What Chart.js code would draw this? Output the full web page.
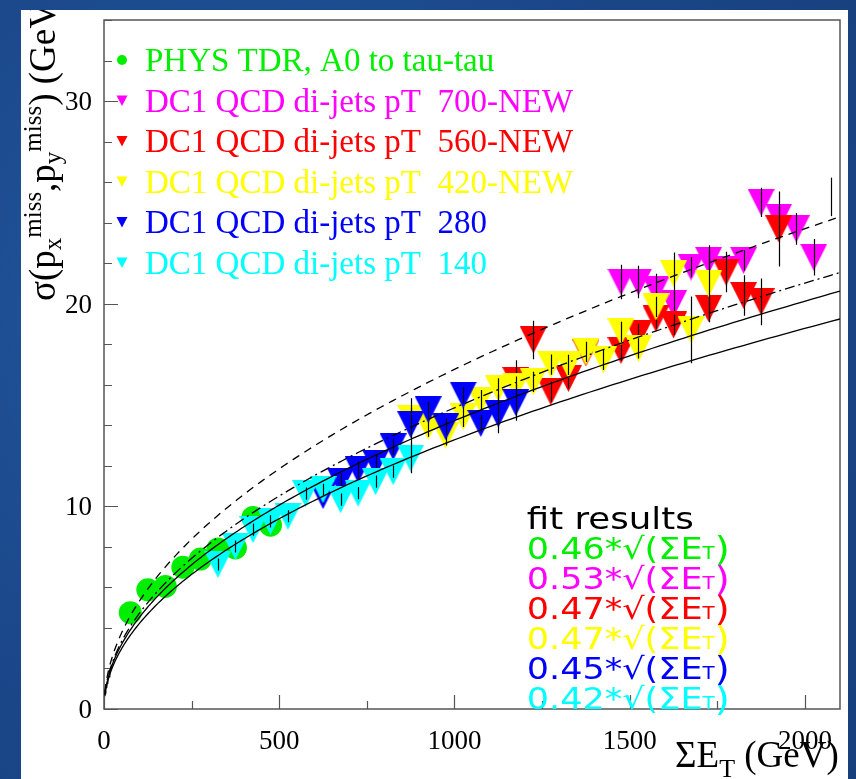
<!DOCTYPE html>
<html lang="en">
<head>
<meta charset="UTF-8">
<title>Missing ET resolution vs sum ET</title>
<style>
  html, body { margin:0; padding:0; }
  body { width:856px; height:779px; position:relative; overflow:hidden;
         background:#1c4b8e radial-gradient(circle at 30% 40%, #2358a0 0%, #1a4688 60%, #173f7c 100%); }
  #panel { position:absolute; left:21px; top:10px; width:827px; height:769px; background:#fff; }
  canvas { display:block; }
</style>
</head>
<body>
<div id="panel"><canvas id="c" width="827" height="769"></canvas></div>

<script src="https://cdn.jsdelivr.net/npm/chart.js"></script>
<script>
// PHYS TDR, A0 -> tau tau
const tdrX = [75, 125, 175, 225, 275, 325, 375, 425, 475];
const tdrY = [4.75, 5.88, 6.05, 7.0, 7.4, 7.9, 7.95, 9.45, 9.07];

// DC1 QCD di-jets, pT 700
const pt700X = [1475, 1525, 1575, 1625, 1675, 1725, 1775, 1825, 1875, 1925, 1975, 2025];
const pt700Y = [21.07, 21.07, 20.68, 20.0, 21.81, 22.14, 21.7, 22.14, 25.0, 24.27, 23.69, 22.29];
const pt700Err = [0.85, 0.8, 0.8, 0.5, 0.5, 0.5, 0.5, 0.5, 0.72, 0.5, 0.78, 0.9];
// last 700 bin: only its error bar shows
const pt700TailX = [2075];
const pt700TailY = [25.27];
const pt700TailErr = [0.95];

// pT 560
const pt560X = [1175, 1225, 1275, 1325, 1375, 1475, 1525, 1575, 1625, 1725, 1775, 1825, 1875, 1925];
const pt560Y = [16.21, 18.21, 15.65, 16.31, 17.57, 17.69, 18.51, 19.26, 18.95, 19.76, 21.56, 20.41, 20.09, 23.69];
const pt560Err = [1.0, 0.95, 0.5, 0.5, 0.5, 0.5, 0.5, 0.5, 0.5, 0.5, 1.0, 1.0, 1.15, 1.85];

// pT 420
const pt420X = [875, 925, 975, 1025, 1075, 1125, 1175, 1225, 1275, 1325, 1375, 1425, 1475, 1525, 1575, 1625, 1675, 1725];
const pt420Y = [14.34, 13.94, 13.5, 14.42, 15.24, 15.82, 15.91, 16.14, 16.99, 16.98, 17.62, 17.23, 18.61, 17.79, 19.84, 21.48, 18.71, 20.99];
const pt420Err = [0.5, 0.5, 0.5, 0.5, 0.5, 0.5, 0.5, 0.5, 0.5, 0.5, 0.5, 0.5, 0.5, 0.5, 0.5, 1.05, 1.65, 1.9];

// pT 280
const pt280X = [625, 675, 725, 775, 825, 875, 925, 975, 1025, 1075, 1125, 1175];
const pt280Y = [10.53, 11.22, 11.81, 12.13, 12.94, 14.03, 14.77, 13.93, 15.49, 14.09, 14.56, 15.12];
const pt280Err = [0.4, 0.4, 0.4, 0.4, 0.4, 1.3, 0.4, 0.4, 0.4, 0.4, 0.95, 0.9];

// pT 140
const pt140X = [325, 375, 425, 475, 525, 575, 625, 675, 725, 775, 825, 875];
const pt140Y = [7.13, 8.02, 8.85, 9.26, 9.51, 10.63, 10.82, 10.33, 10.65, 11.22, 11.71, 12.38];
const pt140Err = [0.3, 0.3, 0.3, 0.3, 0.3, 0.3, 0.3, 0.3, 0.3, 0.3, 0.3, 0.75];

// sqrt fits: coefficient per sample (box) and the curves drawn
const fitSlopes = [0.46, 0.53, 0.47, 0.47, 0.45, 0.42];
const curveSlopes = [0.53, 0.47, 0.45, 0.42];

const xTicks = [0, 500, 1000, 1500, 2000];
const yTicks = [0, 10, 20, 30];

const GREEN = '#00ee00', MAGENTA = '#ff00ff', RED = '#ff0000',
      YELLOW = '#ffff00', BLUE = '#0000ff', CYAN = '#00ffff';
const SERIF = '"Liberation Serif", "Times New Roman", serif';
const SANS = '"DejaVu Sans", sans-serif';

function pts(xs, ys) { return xs.map((x, i) => ({ x: x, y: ys[i] })); }

function fitCurve(a) {
  const out = [];
  for (let i = 0; i <= 160; i++) {
    const x = 2.5 + (2100 - 2.5) * Math.pow(i / 160, 2);
    out.push({ x: x, y: a * Math.sqrt(x) });
  }
  return out;
}

// full down-triangle marker, centred on the point
function downTriangle(color, w) {
  const c = document.createElement('canvas');
  c.width = w; c.height = w;
  const g = c.getContext('2d');
  g.fillStyle = color;
  g.beginPath(); g.moveTo(0, 0); g.lineTo(w, 0); g.lineTo(w / 2, w); g.closePath(); g.fill();
  return c;
}

function markerSet(label, color, xs, ys, errs, order) {
  return {
    label: label, legend: true, color: color,
    data: pts(xs, ys), errors: errs,
    pointStyle: downTriangle(color, 27), pointRadius: 13, pointHoverRadius: 13,
    borderColor: color, backgroundColor: color, showLine: false, order: order
  };
}

const dashes = [[8, 6], [10, 4, 2, 4], [], []];

const datasets = [
  { label: 'PHYS TDR, A0 to tau-tau', legend: true, color: GREEN, data: pts(tdrX, tdrY),
    pointStyle: 'circle', pointRadius: 11.5, pointHoverRadius: 11.5, borderWidth: 0,
    backgroundColor: GREEN, borderColor: GREEN, showLine: false, order: 6 },
  markerSet('DC1 QCD di-jets pT  700-NEW', MAGENTA, pt700X, pt700Y, pt700Err, 5),
  { label: '', data: pts(pt700TailX, pt700TailY), errors: pt700TailErr,
    pointRadius: 0, showLine: false, order: 5 },
  markerSet('DC1 QCD di-jets pT  560-NEW', RED, pt560X, pt560Y, pt560Err, 4),
  markerSet('DC1 QCD di-jets pT  420-NEW', YELLOW, pt420X, pt420Y, pt420Err, 3),
  markerSet('DC1 QCD di-jets pT  280', BLUE, pt280X, pt280Y, pt280Err, 2),
  markerSet('DC1 QCD di-jets pT  140', CYAN, pt140X, pt140Y, pt140Err, 1)
];
curveSlopes.forEach((a, i) => {
  datasets.push({ label: 'fit ' + a, data: fitCurve(a), showLine: true, pointRadius: 0,
    borderColor: '#000', borderWidth: 1.3, borderDash: dashes[i], fill: false, order: 0 });
});

// ROOT-like frame with inward ticks and plain tick labels
const framePlugin = {
  id: 'frame',
  beforeDatasetsDraw(chart) {
    const { ctx, chartArea: a, scales: { x, y } } = chart;
    ctx.save();
    ctx.strokeStyle = '#555';
    ctx.lineWidth = 1.5;
    ctx.strokeRect(a.left, a.top, a.right - a.left, a.bottom - a.top);
    ctx.beginPath();
    for (let v = 0; v <= 34; v += 2) {
      const py = Math.round(y.getPixelForValue(v)) + 0.5;
      const len = v % 10 === 0 ? 14 : 8;
      ctx.moveTo(a.left, py); ctx.lineTo(a.left + len, py);
    }
    for (let v = 0; v <= 2100; v += 250) {
      const px = Math.round(x.getPixelForValue(v)) + 0.5;
      const len = v % 500 === 0 ? 14 : 8;
      ctx.moveTo(px, a.bottom); ctx.lineTo(px, a.bottom - len);
    }
    ctx.lineWidth = 1.2;
    ctx.stroke();

    ctx.fillStyle = '#000';
    ctx.font = '27px ' + SERIF;
    ctx.textBaseline = 'alphabetic';
    ctx.textAlign = 'center';
    xTicks.forEach(v => ctx.fillText(String(v), x.getPixelForValue(v), a.bottom + 40));
    ctx.textAlign = 'right';
    yTicks.forEach(v => ctx.fillText(String(v), a.left - 12, y.getPixelForValue(v) + 9));
    ctx.restore();
  }
};

// vertical error bars, drawn after each sample's markers
const errorBarPlugin = {
  id: 'errbars',
  afterDatasetDraw(chart, args) {
    const ds = chart.data.datasets[args.index];
    if (!ds.errors) return;
    const { ctx, chartArea: a, scales: { y } } = chart;
    ctx.save();
    ctx.beginPath(); ctx.rect(a.left, a.top, a.right - a.left, a.bottom - a.top); ctx.clip();
    ctx.strokeStyle = '#000';
    ctx.lineWidth = 1.2;
    ctx.beginPath();
    args.meta.data.forEach((p, i) => {
      const v = ds.data[i].y, e = ds.errors[i];
      const px = Math.round(p.x) + 0.5;
      ctx.moveTo(px, y.getPixelForValue(v + e));
      ctx.lineTo(px, y.getPixelForValue(v - e));
    });
    ctx.stroke();
    ctx.restore();
  }
};

function drawParts(ctx, parts, x, y, width) {
  let natural = 0;
  parts.forEach(p => { ctx.font = p.font; natural += ctx.measureText(p.text).width; });
  const k = width ? width / natural : 1;
  ctx.save();
  ctx.translate(x, y);
  ctx.scale(k, 1);
  let cx = 0;
  parts.forEach(p => {
    ctx.font = p.font;
    ctx.fillText(p.text, cx, p.dy || 0);
    cx += ctx.measureText(p.text).width;
  });
  ctx.restore();
}

const textPlugin = {
  id: 'texts',
  afterDraw(chart) {
    const { ctx, chartArea: a } = chart;
    ctx.save();
    ctx.textBaseline = 'alphabetic';
    ctx.textAlign = 'left';

    // legend, top left inside the frame
    let row = 0;
    chart.data.datasets.forEach(ds => {
      if (!ds.legend) return;
      const cy = a.top + 40 + row * 40.5;
      const mx = a.left + 18;
      ctx.fillStyle = ds.color;
      ctx.beginPath();
      if (ds.pointStyle === 'circle') {
        ctx.arc(mx, cy, 5, 0, Math.PI * 2);
      } else {
        ctx.moveTo(mx - 5.5, cy - 5); ctx.lineTo(mx + 5.5, cy - 5); ctx.lineTo(mx, cy + 5.5);
        ctx.closePath();
      }
      ctx.fill();
      ctx.font = '33px ' + SERIF;
      ctx.fillText(ds.label, a.left + 41, cy + 11);
      row++;
    });

    // fit results box
    const fx = a.left + 422.7, fy = 518.5;
    ctx.fillStyle = '#000';
    drawParts(ctx, [{ text: 'fit results', font: '30px ' + SANS }], fx, fy, 167);
    const colors = [GREEN, MAGENTA, RED, YELLOW, BLUE, CYAN];
    fitSlopes.forEach((s, i) => {
      ctx.fillStyle = colors[i];
      drawParts(ctx, [
        { text: s.toFixed(2) + '*\u221A(\u03A3E', font: '30px ' + SANS },
        { text: 'T', font: '17px ' + SANS, dy: 0 },
        { text: ')', font: '33px ' + SANS, dy: 2 }
      ], fx, fy + 30 * (i + 1), 203);
    });

    // axis titles
    ctx.fillStyle = '#000';
    drawParts(ctx, [
      { text: '\u03A3E', font: '37px ' + SERIF },
      { text: 'T', font: '26px ' + SERIF, dy: 10 },
      { text: ' (GeV)', font: '37px ' + SERIF }
    ], 654, 756.5);

    ctx.save();
    ctx.translate(34, 291);
    ctx.rotate(-Math.PI / 2);
    drawParts(ctx, [
      { text: '\u03C3(p', font: '37px ' + SERIF },
      { text: 'x', font: '25px ' + SERIF, dy: 6 },
      { text: 'miss', font: '25px ' + SERIF, dy: -14 },
      { text: ',p', font: '37px ' + SERIF },
      { text: 'y', font: '25px ' + SERIF, dy: 6 },
      { text: 'miss', font: '25px ' + SERIF, dy: -14 },
      { text: ') (GeV)', font: '37px ' + SERIF }
    ], 0, 0);
    ctx.restore();

    ctx.restore();
  }
};

new Chart(document.getElementById('c'), {
  type: 'scatter',
  data: { datasets: datasets },
  options: {
    responsive: false,
    animation: false,
    events: [],
    layout: { autoPadding: false, padding: { top: 10, right: 8, left: 0, bottom: 0 } },
    plugins: { legend: { display: false }, tooltip: { enabled: false } },
    scales: {
      x: {
        type: 'linear', min: 0, max: 2100,
        grid: { display: false, drawTicks: false }, border: { display: false },
        ticks: { display: false },
        afterFit: s => { s.height = 70; }
      },
      y: {
        type: 'linear', min: 0, max: 34,
        grid: { display: false, drawTicks: false }, border: { display: false },
        ticks: { display: false },
        afterFit: s => { s.width = 83; }
      }
    }
  },
  plugins: [framePlugin, errorBarPlugin, textPlugin]
});
</script>
</body>
</html>
